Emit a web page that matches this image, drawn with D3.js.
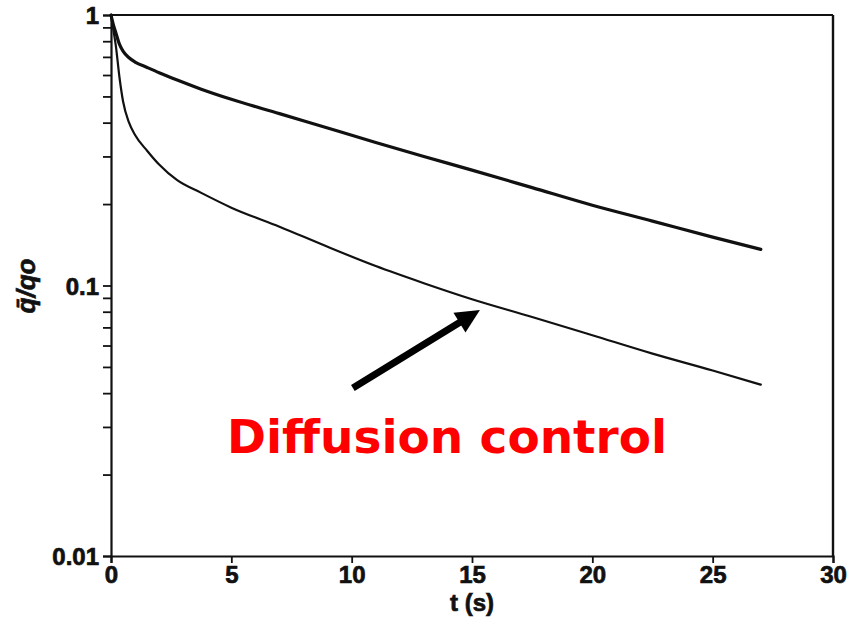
<!DOCTYPE html>
<html><head><meta charset="utf-8">
<script src="https://cdn.jsdelivr.net/npm/d3@7/dist/d3.min.js"></script>
<style>body{margin:0;background:#fff;} svg{display:block;}</style>
</head><body>
<script>
// Data
const timeS = [0, 0.1, 0.2, 0.35, 0.5, 0.75, 1, 1.5, 2, 2.75, 3.75, 5, 7, 9, 11, 13, 15, 17.5, 20, 22.5, 25, 27];
const upperSeries = [1.0, 0.92, 0.86, 0.78, 0.735, 0.695, 0.67, 0.64, 0.612, 0.575, 0.532, 0.488, 0.432, 0.382, 0.338, 0.300, 0.267, 0.230, 0.198, 0.173, 0.151, 0.136];
const lowerSeries = [1.0, 0.88, 0.77, 0.59, 0.48, 0.40, 0.36, 0.315, 0.28, 0.245, 0.22, 0.194, 0.165, 0.139, 0.118, 0.102, 0.089, 0.0765, 0.0655, 0.056, 0.0485, 0.043];
const xTicks = [0, 5, 10, 15, 20, 25, 30];
const yMajorTicks = [0.01, 0.1, 1];
const yTickLabels = ["0.01", "0.1", "1"];
const xLabel = "t (s)";
const annotationText = "Diffusion control";
const arrowFrom = [10.05, 0.0418];
const arrowTo = [15.33, 0.0811];
const textAnchorPt = [4.82, 0.024];

const W = 849, H = 620;
const svg = d3.select("body").append("svg").attr("width", W).attr("height", H);

const x = d3.scaleLinear().domain([0, 30]).range([111, 833]);
const y = d3.scaleLog().domain([0.01, 1]).range([556, 15]);

const ink = "#111";
const tickFont = "'Liberation Sans', Arial, sans-serif";
// minor ticks
const minor = [];
[0.01, 0.1].forEach(d => { for (let k = 2; k <= 9; k++) minor.push(d * k); });

function heavy(sel) {
  sel.attr("fill", ink).attr("stroke", ink).attr("stroke-width", 0.7).style("font-family", tickFont).style("font-weight", "bold");
}

const yAxis = d3.axisLeft(y).tickValues(yMajorTicks.concat(minor)).tickSize(8)
  .tickFormat(d => { const i = yMajorTicks.findIndex(v => Math.abs(v - d) < 1e-9); return i >= 0 ? yTickLabels[i] : ""; })
  .tickPadding(4);
const gy = svg.append("g").attr("transform", `translate(${x(0)},0)`).call(yAxis);
gy.select(".domain").attr("stroke", ink).attr("stroke-width", 2.2);
gy.selectAll(".tick line").attr("stroke", ink).attr("stroke-width", 1.8);
gy.selectAll(".tick text").call(heavy).style("font-size", "24px").attr("dy", "0.36em");

const xAxis = d3.axisBottom(x).tickValues(xTicks).tickSize(7).tickPadding(3).tickFormat(d3.format("d"));
const gx = svg.append("g").attr("transform", `translate(0,${y(0.01)})`).call(xAxis);
gx.select(".domain").attr("stroke", ink).attr("stroke-width", 2.2);
gx.selectAll(".tick line").attr("stroke", ink).attr("stroke-width", 1.8);
gx.selectAll(".tick text").call(heavy).style("font-size", "24px");

// frame top and right
svg.append("line").attr("x1", x(0)).attr("x2", x(30)).attr("y1", y(1)).attr("y2", y(1)).attr("stroke", ink).attr("stroke-width", 2.2);
svg.append("line").attr("x1", x(30)).attr("x2", x(30)).attr("y1", y(1)).attr("y2", y(0.01)).attr("stroke", ink).attr("stroke-width", 2.4);

// curves
const line = d3.line().x(d => x(d[0])).y(d => y(d[1])).curve(d3.curveMonotoneX);
svg.append("path").datum(timeS.map((t, i) => [t, upperSeries[i]])).attr("d", line)
  .attr("fill", "none").attr("stroke", ink).attr("stroke-width", 3.2).attr("stroke-linejoin", "round").attr("stroke-linecap", "round");
svg.append("path").datum(timeS.map((t, i) => [t, lowerSeries[i]])).attr("d", line)
  .attr("fill", "none").attr("stroke", ink).attr("stroke-width", 2.2).attr("stroke-linejoin", "round").attr("stroke-linecap", "round");

// axis labels
svg.append("text").attr("x", x(15)).attr("y", 611).attr("text-anchor", "middle")
  .call(heavy).style("font-size", "24px").text(xLabel);
const yl = svg.append("text").attr("transform", "translate(35,286) rotate(-90)").attr("text-anchor", "middle")
  .call(heavy).style("font-style", "italic").style("font-size", "26px");
yl.append("tspan").text("q\u0304");
yl.append("tspan").text("/qo");

// arrow
const ax0 = x(arrowFrom[0]), ay0 = y(arrowFrom[1]), ax1 = x(arrowTo[0]), ay1 = y(arrowTo[1]);
const ang = Math.atan2(ay1 - ay0, ax1 - ax0);
const headLen = 24, headHalf = 11.5;
const bx = ax1 - headLen * Math.cos(ang), by = ay1 - headLen * Math.sin(ang);
svg.append("line").attr("x1", ax0).attr("y1", ay0).attr("x2", bx + 2 * Math.cos(ang)).attr("y2", by + 2 * Math.sin(ang))
  .attr("stroke", "#000").attr("stroke-width", 7);
svg.append("polygon").attr("points", [
  [ax1, ay1],
  [bx - headHalf * Math.sin(ang), by + headHalf * Math.cos(ang)],
  [bx + headHalf * Math.sin(ang), by - headHalf * Math.cos(ang)]
].map(p => p.join(",")).join(" ")).attr("fill", "#000");

// annotation text
svg.append("text").attr("x", x(textAnchorPt[0])).attr("y", y(textAnchorPt[1]))
  .style("font-family", "'DejaVu Sans', Verdana, sans-serif").style("font-weight", "bold").style("font-size", "47px")
  .attr("textLength", 440).attr("lengthAdjust", "spacingAndGlyphs")
  .attr("fill", "#ff0000").text(annotationText);
</script>
</body></html>
